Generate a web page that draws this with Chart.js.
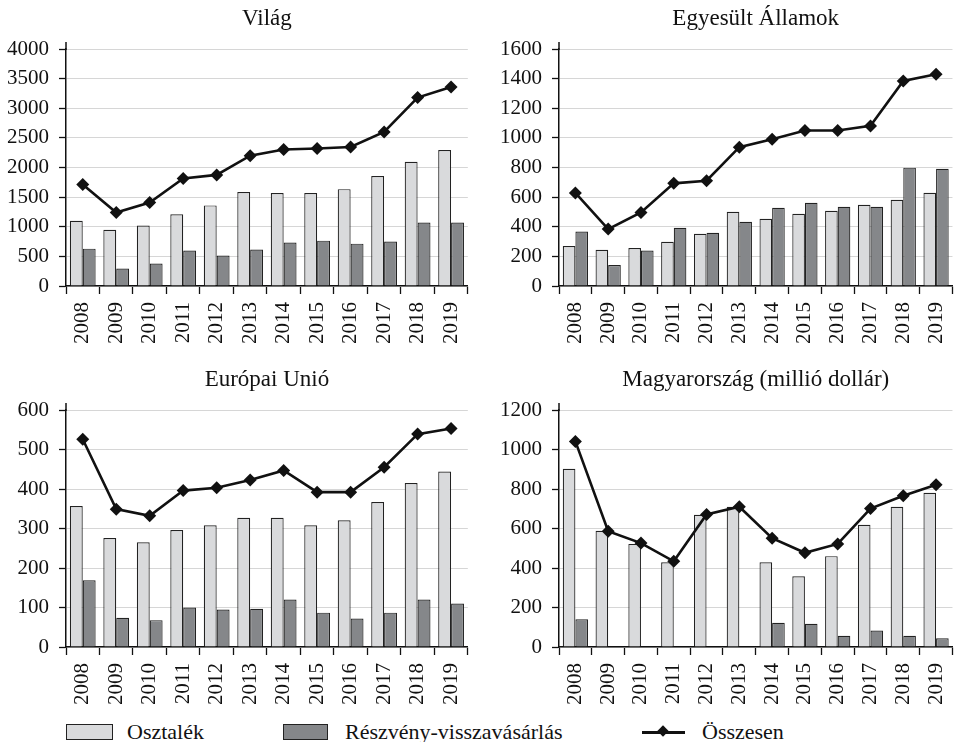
<!DOCTYPE html>
<html>
<head>
<meta charset="utf-8">
<script src="https://cdn.jsdelivr.net/npm/chart.js@4.4.1/dist/chart.umd.min.js"></script>
<style>
  html, body { margin:0; padding:0; background:#fff; }
  body { width:970px; height:742px; position:relative; overflow:hidden; font-family:"Liberation Serif", serif; color:#111; }
  .panel { position:absolute; }
  .lg { position:absolute; }
  .box { position:absolute; height:14px; border:1.3px solid #222; }
  .txt { position:absolute; font-size:22px; line-height:22px; top:721px; white-space:nowrap; }
</style>
</head>
<body>
<canvas id="c1" class="panel" style="left:0;top:0" width="485" height="350"></canvas>
<canvas id="c2" class="panel" style="left:485px;top:0" width="485" height="350"></canvas>
<canvas id="c3" class="panel" style="left:0;top:350px" width="485" height="361"></canvas>
<canvas id="c4" class="panel" style="left:485px;top:350px" width="485" height="361"></canvas>

<div class="box" style="left:66px;top:724px;width:45px;background:#d9dadc"></div>
<div class="txt" style="left:127px">Osztalék</div>
<div class="box" style="left:283px;top:724px;width:43px;background:#85878a"></div>
<div class="txt" style="left:345px">Részvény-visszavásárlás</div>
<div class="lg" style="left:642px;top:731px;width:43px;height:2.5px;background:#111"></div>
<div class="lg" style="left:659px;top:727px;width:8px;height:8px;background:#111;transform:rotate(45deg)"></div>
<div class="txt" style="left:702px">Összesen</div>

<script>
const years = ['2008','2009','2010','2011','2012','2013','2014','2015','2016','2017','2018','2019'];

const vilagOsztalek = [1100, 950, 1020, 1210, 1360, 1585, 1570, 1570, 1635, 1855, 2095, 2295];
const vilagVisszavasarlas = [630, 295, 380, 600, 515, 615, 735, 765, 715, 750, 1070, 1070];
const vilagOsszesen = [1715, 1240, 1410, 1815, 1875, 2200, 2305, 2320, 2345, 2600, 3180, 3360];

const usaOsztalek = [270, 245, 257, 298, 352, 501, 454, 488, 508, 549, 582, 630];
const usaVisszavasarlas = [368, 142, 239, 393, 359, 433, 528, 562, 535, 535, 799, 792];
const usaOsszesen = [628, 384, 497, 693, 711, 937, 991, 1050, 1050, 1081, 1384, 1429];

const euOsztalek = [357, 276, 265, 296, 308, 327, 327, 308, 321, 367, 415, 444];
const euVisszavasarlas = [169, 74, 68, 100, 95, 97, 120, 87, 72, 87, 120, 110];
const euOsszesen = [526, 349, 332, 396, 403, 423, 447, 392, 392, 455, 539, 553];

const huOsztalek = [902, 588, 522, 429, 669, 710, 429, 358, 460, 619, 710, 781];
const huVisszavasarlas = [140, null, null, null, null, null, 123, 118, 57, 83, 57, 44];
const huOsszesen = [1041, 586, 526, 434, 671, 710, 551, 477, 522, 701, 766, 821];

const titles = ['Világ', 'Egyesült Államok', 'Európai Unió', 'Magyarország (millió dollár)'];
const seriesNames = ['Osztalék', 'Részvény-visszavásárlás', 'Összesen'];
const yTop = [4000, 1600, 600, 1200];
const yStep = [500, 200, 100, 200];

const FONT = '"Liberation Serif", serif';
const INK = '#111';

// extends the y axis line a little above the top tick, as in the original
const axisExtend = {
  id: 'axisExtend',
  afterDraw(chart) {
    const { ctx, chartArea } = chart;
    const y = chart.scales.y;
    ctx.save();
    ctx.strokeStyle = INK;
    ctx.lineWidth = 1.5;
    ctx.beginPath();
    ctx.moveTo(y.right, chartArea.top - 7);
    ctx.lineTo(y.right, chartArea.top + 1);
    ctx.stroke();
    ctx.restore();
  }
};

function makeChart(id, title, div, buy, tot, top, step, cfg) {
  const ctx = document.getElementById(id);
  new Chart(ctx, {
    type: 'bar',
    data: {
      labels: years,
      datasets: [
        { type: 'line', label: seriesNames[2], data: tot, order: 0,
          borderColor: INK, borderWidth: 2.6, tension: 0,
          pointStyle: 'rectRot', pointRadius: 6.5, pointBackgroundColor: INK, pointBorderColor: INK, pointBorderWidth: 0 },
        { label: seriesNames[0], data: div, order: 1,
          backgroundColor: '#d9dadc', borderColor: '#222', borderWidth: 1.2,
          categoryPercentage: 0.77, barPercentage: 1.0 },
        { label: seriesNames[1], data: buy, order: 1,
          backgroundColor: '#85878a', borderColor: '#222', borderWidth: 1.2,
          categoryPercentage: 0.77, barPercentage: 1.0 }
      ]
    },
    plugins: [axisExtend],
    options: {
      responsive: false,
      animation: false,
      events: [],
      layout: { padding: { left: 0, right: cfg.rightPad, top: 0, bottom: 0 } },
      plugins: {
        legend: { display: false },
        tooltip: { enabled: false },
        title: {
          display: true, text: title, fullSize: false, color: INK,
          font: { family: FONT, size: 23, weight: 'normal' },
          padding: { top: cfg.pt, bottom: cfg.pb }
        }
      },
      scales: {
        x: {
          offset: true,
          grid: { offset: true, drawOnChartArea: false, drawTicks: true, tickLength: 8, tickColor: INK, tickWidth: 1.3 },
          border: { color: INK, width: 1.5 },
          ticks: { color: INK, font: { family: FONT, size: 21 }, minRotation: 90, maxRotation: 90, padding: 8, autoSkip: false },
          afterFit: s => { s.height = 64; }
        },
        y: {
          min: 0, max: top,
          ticks: { stepSize: step, autoSkip: false, color: INK, font: { family: FONT, size: 21 }, padding: 10,
                   callback: v => String(v) },
          grid: { display: true, drawOnChartArea: true, color: '#d6d6d6', lineWidth: 1, drawTicks: true, tickLength: 7, tickColor: INK, tickWidth: 1.3 },
          border: { color: INK, width: 1.5 },
          afterFit: s => { s.width = cfg.yWidth; }
        }
      }
    }
  });
}

makeChart('c1', titles[0], vilagOsztalek, vilagVisszavasarlas, vilagOsszesen, yTop[0], yStep[0], { rightPad: 10, yWidth: 66, pt: 5.5, pb: 15.9 });
makeChart('c2', titles[1], usaOsztalek, usaVisszavasarlas, usaOsszesen, yTop[1], yStep[1], { rightPad: 2, yWidth: 74, pt: 5.5, pb: 15.9 });
makeChart('c3', titles[2], euOsztalek, euVisszavasarlas, euOsszesen, yTop[2], yStep[2], { rightPad: 10, yWidth: 66, pt: 16.2, pb: 16.2 });
makeChart('c4', titles[3], huOsztalek, huVisszavasarlas, huOsszesen, yTop[3], yStep[3], { rightPad: 2, yWidth: 74, pt: 16.2, pb: 16.2 });
</script>
</body>
</html>
